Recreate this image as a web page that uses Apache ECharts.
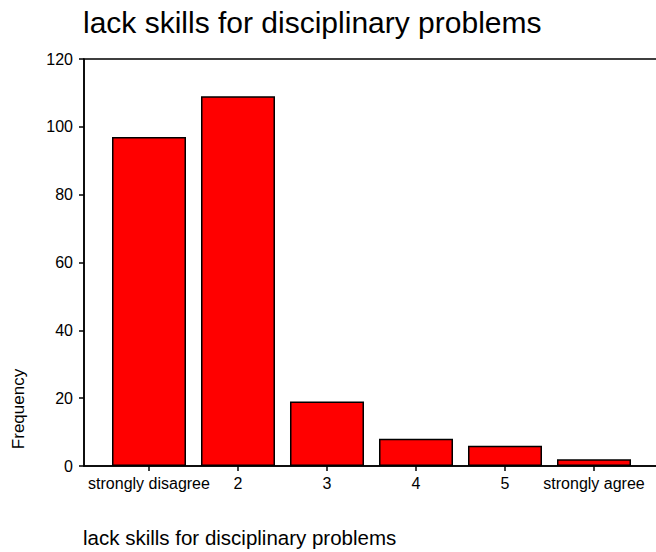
<!DOCTYPE html>
<html>
<head>
<meta charset="utf-8">
<script src="https://cdn.jsdelivr.net/npm/echarts@6/dist/echarts.min.js"></script>
<style>
  html, body { margin: 0; padding: 0; background: #fff; }
  #chart { width: 656px; height: 552px; }
</style>
</head>
<body>
<div id="chart"></div>
<script>
// Frequencies of answers to "lack skills for disciplinary problems"
const categories = ['strongly disagree', '2', '3', '4', '5', 'strongly agree'];
const counts = [97, 109, 19, 8, 6, 2];
const yTicks = [0, 20, 40, 60, 80, 100, 120];

const chartTitle = 'lack skills for disciplinary problems';
const xAxisTitle = 'lack skills for disciplinary problems';
const yAxisTitle = 'Frequency';

const FONT = "'Liberation Sans', Arial, sans-serif";

const chart = echarts.init(document.getElementById('chart'), null, { renderer: 'svg' });

// category positions used as numeric x values so the frame can extend past the bars
const positions = categories.map((_, i) => i);
const barData = counts.map((v, i) => [positions[i], v]);

chart.setOption({
  animation: false,
  backgroundColor: '#ffffff',
  title: [
    {
      text: chartTitle,
      left: 83,
      top: 7,
      padding: 0,
      textStyle: { fontFamily: FONT, fontSize: 30, fontWeight: 'normal', color: '#000' }
    },
    {
      text: xAxisTitle,
      left: 83,
      top: 527,
      padding: 0,
      textStyle: { fontFamily: FONT, fontSize: 20.5, fontWeight: 'normal', color: '#000' }
    }
  ],
  graphic: [
    {
      type: 'text',
      x: 10,
      y: 409,
      rotation: Math.PI / 2,
      style: {
        text: yAxisTitle,
        font: '17px ' + FONT,
        fill: '#000',
        align: 'center',
        verticalAlign: 'top'
      }
    }
  ],
  grid: {
    left: 84,
    top: 59,
    height: 407,
    width: 602,
    show: true,
    borderColor: '#000',
    borderWidth: 1.5,
    containLabel: false,
    outerBoundsMode: 'none'
  },
  xAxis: {
    type: 'value',
    min: -0.7303,
    max: 6.0337,
    splitLine: { show: false },
    axisLine: { show: true, onZero: false, lineStyle: { color: '#000', width: 1.5 } },
    axisTick: {
      show: true,
      length: 5,
      customValues: positions,
      lineStyle: { color: '#000', width: 1.5 }
    },
    axisLabel: {
      customValues: positions,
      margin: 9,
      fontFamily: FONT,
      fontSize: 16,
      color: '#000',
      formatter: v => categories[Math.round(v)]
    }
  },
  yAxis: {
    type: 'value',
    min: yTicks[0],
    max: yTicks[yTicks.length - 1],
    interval: 20,
    splitLine: { show: false },
    axisLine: { show: true, onZero: false, lineStyle: { color: '#000', width: 1.5 } },
    axisTick: { show: true, length: 5, lineStyle: { color: '#000', width: 1.5 } },
    axisLabel: {
      margin: 11,
      fontFamily: FONT,
      fontSize: 16,
      color: '#000'
    }
  },
  series: [
    {
      type: 'bar',
      data: barData,
      barWidth: 74,
      itemStyle: {
        color: '#ff0000',
        borderColor: '#000',
        borderWidth: 1.5
      }
    }
  ]
});
</script>
</body>
</html>
